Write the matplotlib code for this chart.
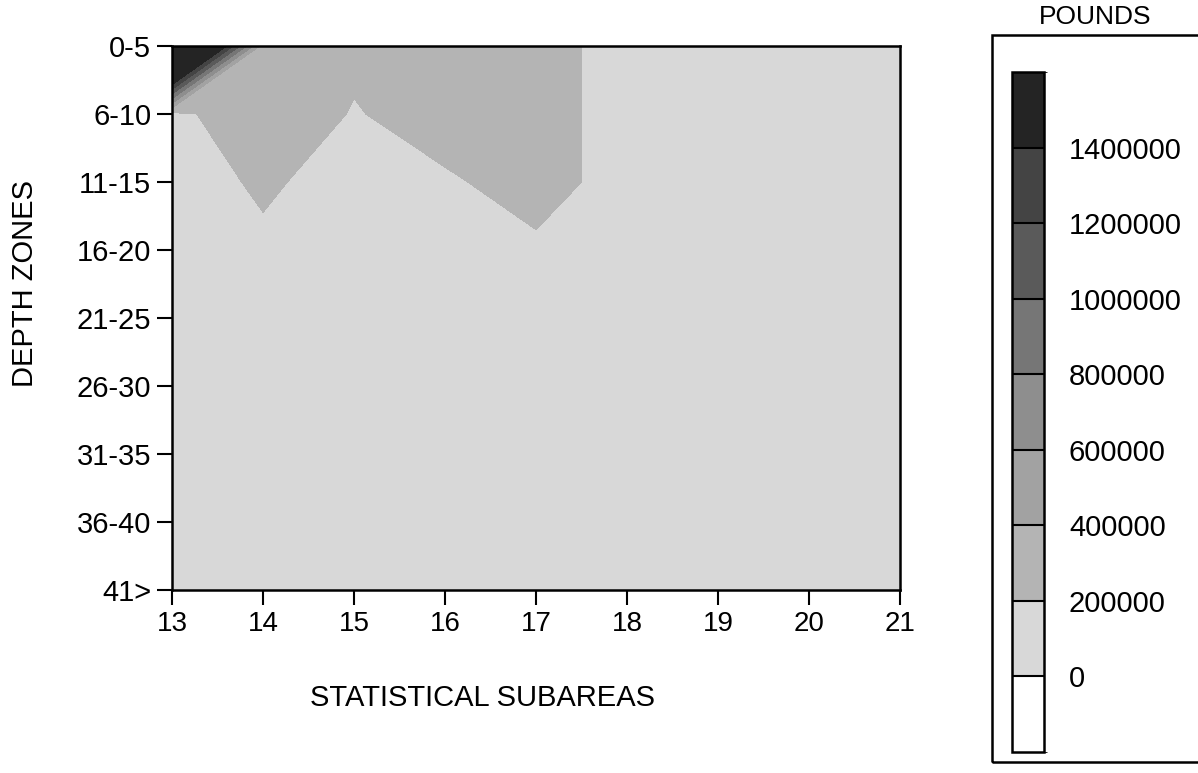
import numpy as np
import matplotlib.pyplot as plt
import matplotlib.colors as mcolors
import matplotlib.cm as cm
from matplotlib.patches import Rectangle

plt.rcParams['font.family'] = ['Liberation Sans', 'DejaVu Sans']

# Statistical subareas (x) and depth zones (y)
subareas = [13, 14, 15, 16, 17, 18, 19, 20, 21]
depth_zones = ['0-5', '6-10', '11-15', '16-20', '21-25', '26-30', '31-35', '36-40', '41>']

# Landings in pounds, one row per depth zone
pounds_0_5 = [3050000, 300000, 250000, 350000, 300000, 100000, 120000, 110000, 100000]
pounds_6_10 = [140000, 360000, 185000, 300000, 300000, 100000, 110000, 100000, 90000]
pounds_11_15 = [135000, 220000, 145000, 172000, 284000, 116000, 100000, 90000, 80000]
pounds_16_20 = [120000, 175000, 150000, 140000, 164000, 120000, 100000, 90000, 80000]
pounds_21_25 = [100000, 110000, 120000, 110000, 100000, 90000, 80000, 70000, 60000]
pounds_26_30 = [80000, 90000, 90000, 80000, 70000, 60000, 50000, 50000, 40000]
pounds_31_35 = [60000, 60000, 60000, 50000, 50000, 40000, 30000, 30000, 20000]
pounds_36_40 = [40000, 40000, 40000, 30000, 30000, 20000, 20000, 10000, 10000]
pounds_41 = [20000, 20000, 20000, 20000, 10000, 10000, 10000, 5000, 5000]

levels = [0, 200000, 400000, 600000, 800000, 1000000, 1200000, 1400000, 1600000]
shades = ['#d8d8d8', '#b4b4b4', '#a2a2a2', '#8e8e8e', '#767676', '#5a5a5a', '#444444', '#242424']

grid = np.array([pounds_0_5, pounds_6_10, pounds_11_15, pounds_16_20, pounds_21_25,
                 pounds_26_30, pounds_31_35, pounds_36_40, pounds_41])

fig = plt.figure(figsize=(11.98, 7.73), dpi=100)
ax = fig.add_axes([0.1436, 0.2367, 0.6077, 0.7038])

X, Y = np.meshgrid(subareas, np.arange(len(depth_zones)))
cmap = mcolors.ListedColormap(shades)
cmap.set_over(shades[-1])
norm = mcolors.BoundaryNorm(levels, cmap.N)
ax.contourf(X, Y, grid, levels=levels, cmap=cmap, norm=norm, extend='max')

ax.set_xlim(13, 21)
ax.set_ylim(len(depth_zones) - 1, 0)
ax.set_xticks(subareas)
ax.set_xticklabels([str(s) for s in subareas], fontsize=20)
ax.set_yticks(range(len(depth_zones)))
ax.set_yticklabels(depth_zones, fontsize=21)
ax.tick_params(direction='out', length=11, width=1.5, pad=4)
for sp in ax.spines.values():
    sp.set_linewidth(1.8)

ax.set_xlabel('STATISTICAL SUBAREAS', fontsize=21)
ax.xaxis.set_label_coords(0.426, -0.173)
ax.set_ylabel('DEPTH ZONES', fontsize=21)
ax.yaxis.set_label_coords(-0.183, 0.564)

# Legend box with colour scale
box = Rectangle((0.828, 0.0142), 0.2, 0.9405, transform=fig.transFigure,
                fill=False, edgecolor='black', linewidth=1.8, clip_on=False)
fig.patches.append(box)
fig.text(0.914, 0.978, 'POUNDS', ha='center', va='center', fontsize=19)

cax = fig.add_axes([0.8447, 0.0272, 0.0267, 0.8797])
bar_bounds = [-200000] + levels
bar_cmap = mcolors.ListedColormap(['white'] + shades)
bar_norm = mcolors.BoundaryNorm(bar_bounds, bar_cmap.N)
sm = cm.ScalarMappable(norm=bar_norm, cmap=bar_cmap)
cbar = fig.colorbar(sm, cax=cax, boundaries=bar_bounds, ticks=levels[:-1],
                    drawedges=True, spacing='uniform')
cbar.ax.set_yticklabels([str(v) for v in levels[:-1]], fontsize=21)
cbar.ax.tick_params(length=0, pad=18)
cbar.outline.set_linewidth(1.8)
cbar.dividers.set_linewidth(1.5)

fig.savefig('out.png', dpi=100)
